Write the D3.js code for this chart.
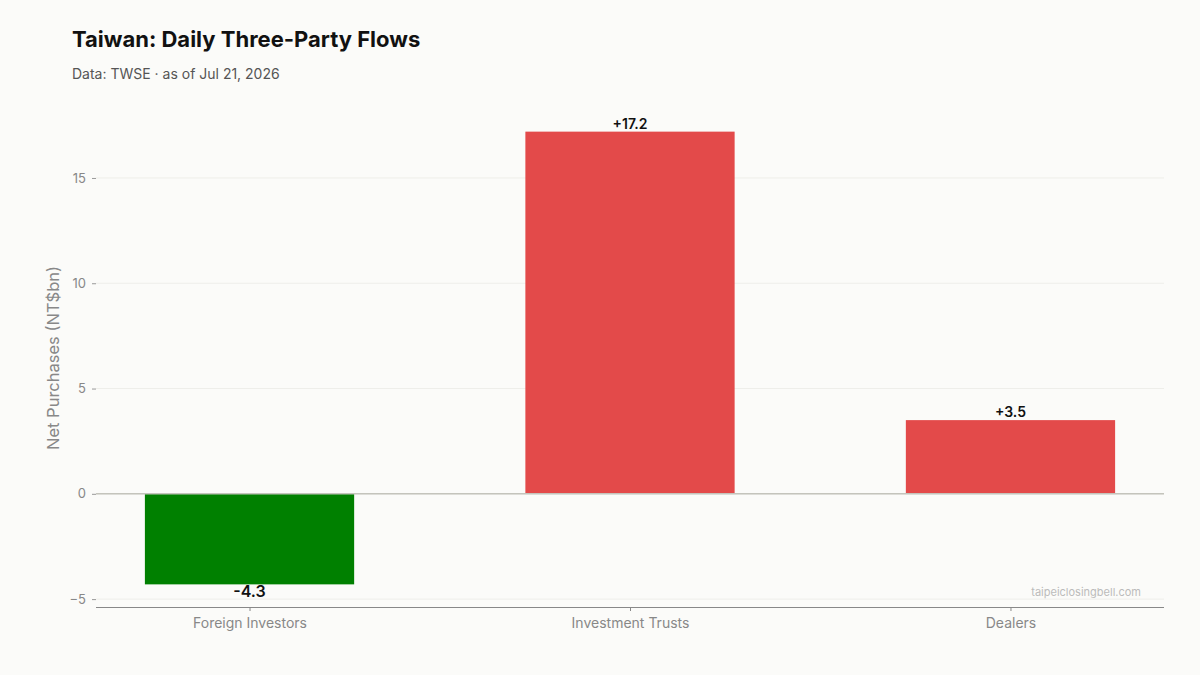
<!DOCTYPE html>
<html><head><meta charset="utf-8">
<script src="https://cdn.jsdelivr.net/npm/d3@7"></script>
<style>
html,body{margin:0;padding:0;background:#fbfbf9;}
text{font-family:Inter,"Noto Sans",sans-serif;}
</style></head>
<body><svg id="c" width="1200" height="675"></svg>
<script>
const categories = ["Foreign Investors","Investment Trusts","Dealers"];
const values = [-4.3, 17.2, 3.5];
const yTicks = [-5, 0, 5, 10, 15];

const svg = d3.select("#c");
svg.append("rect").attr("width",1200).attr("height",675).attr("fill","#fbfbf9");
const L=96,R=1164,T=109,B=607;
const x = d3.scaleLinear().domain([-0.4035, 2.4035]).range([L,R]);
const y = d3.scaleLinear().domain([-5.375, 18.275]).range([B,T]);
const bw = (x(0.55)-x(0));

// grid
svg.append("g").selectAll("line").data(yTicks).join("line")
  .attr("x1",L).attr("x2",R).attr("y1",d=>y(d)).attr("y2",d=>y(d))
  .attr("stroke","#eeeeea").attr("stroke-width",1);

// bars
svg.append("g").selectAll("rect").data(values).join("rect")
  .attr("x",(d,i)=>x(i)-bw/2).attr("width",bw)
  .attr("y",d=>y(Math.max(0,d))).attr("height",d=>Math.abs(y(d)-y(0)))
  .attr("fill",d=>d<0?"#008000":"#e34a4a");

// zero line
svg.append("line").attr("x1",L).attr("x2",R).attr("y1",y(0)).attr("y2",y(0))
  .attr("stroke","#c4c4bc").attr("stroke-width",1.5);

// y axis
const ya = svg.append("g").attr("transform",`translate(${L},0)`)
  .call(d3.axisLeft(y).tickValues(yTicks).tickSize(4).tickPadding(6).tickFormat(d=>d<0?"\u2212"+Math.abs(d):d));
ya.select(".domain").remove();
ya.selectAll(".tick line").attr("stroke","#999");
ya.selectAll("text").attr("fill","#888").attr("font-size",13).style("font-family","Inter,sans-serif");

// x axis
const xa = svg.append("g").attr("transform",`translate(0,${B})`)
  .call(d3.axisBottom(x).tickValues([0,1,2]).tickSize(4).tickPadding(7).tickFormat(i=>categories[i]));
xa.select(".domain").attr("stroke","#888").attr("d",`M${L},0.5H${R}`);
xa.selectAll(".tick line").attr("stroke","#888");
xa.selectAll("text").attr("fill","#888").attr("font-size",14).style("font-family","Inter,sans-serif");

// value labels
svg.append("g").selectAll("text").data(values).join("text")
  .attr("x",(d,i)=>x(i)).attr("y",d=>d<0?y(d)+13:y(d)-3)
  .attr("text-anchor","middle").attr("font-size",d=>d<0?16:14).attr("font-weight",600)
  .attr("fill","#111").text(d=>(d>0?"+":"")+d.toFixed(1));

// y label
svg.append("text").attr("transform",`translate(59,${(T+B)/2}) rotate(-90)`)
  .attr("text-anchor","middle").attr("font-size",16.5).attr("fill","#888")
  .text("Net Purchases (NT$bn)");

// titles
svg.append("text").attr("x",72).attr("y",47).attr("font-size",22).attr("font-weight",700).attr("fill","#111")
  .text("Taiwan: Daily Three-Party Flows");
svg.append("text").attr("x",72).attr("y",79).attr("font-size",14).attr("fill","#555")
  .text("Data: TWSE \u00b7 as of Jul 21, 2026");

// watermark
svg.append("text").attr("x",1141).attr("y",596).attr("text-anchor","end").attr("font-size",11).attr("fill","#bbb")
  .text("taipeiclosingbell.com");
</script></body></html>
